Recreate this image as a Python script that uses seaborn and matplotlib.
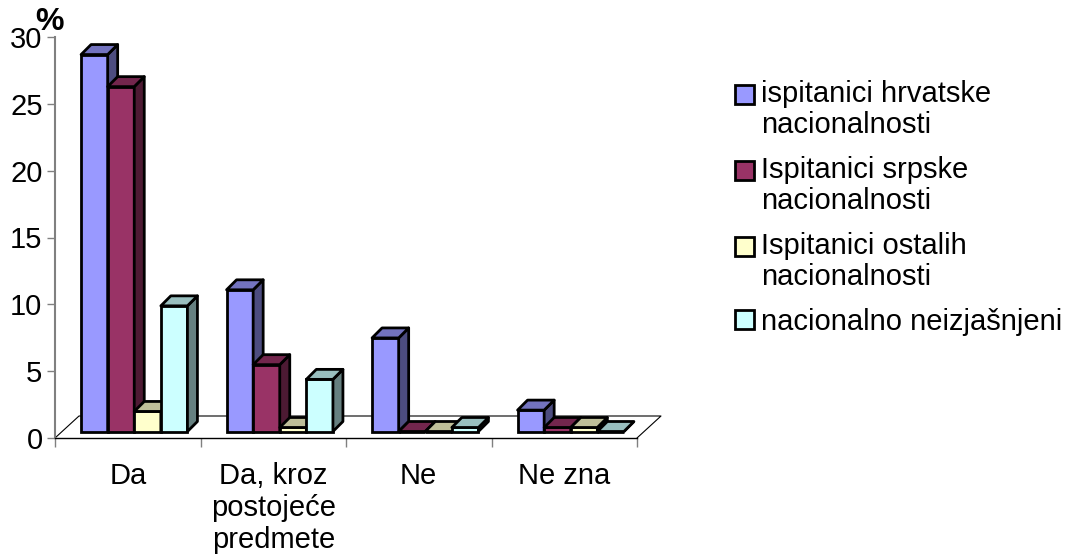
import pandas as pd
import numpy as np
import matplotlib.pyplot as plt
import seaborn as sns
from matplotlib.patches import Polygon

# values
categories = ["Da", "Da, kroz\npostojeće\npredmete", "Ne", "Ne zna"]
series = ["ispitanici hrvatske\nnacionalnosti", "Ispitanici srpske\nnacionalnosti",
          "Ispitanici ostalih\nnacionalnosti", "nacionalno neizjašnjeni"]
hrvatske = [28.2, 10.6, 7.0, 1.6]
srpske = [25.8, 5.0, 0.0, 0.3]
ostalih = [1.5, 0.3, 0.0, 0.3]
neizjasnjeni = [9.4, 3.9, 0.3, 0.0]
yticks = [0, 5, 10, 15, 20, 25, 30]
colors = ["#9999FF", "#993366", "#FFFFCC", "#CCFFFF"]

sns.set_style("white")
plt.rcParams["font.family"] = ["Liberation Sans", "DejaVu Sans"]
plt.rcParams["font.size"] = 21
plt.rcParams["text.color"] = "black"

# long table for seaborn
rows = []
for name, vals in zip(series, [hrvatske, srpske, ostalih, neizjasnjeni]):
    for cat, v in zip(categories, vals):
        rows.append({"cat": cat, "serija": name, "val": v})
df = pd.DataFrame(rows)

fig = plt.figure(figsize=(10.66, 5.56), dpi=100)
ax = fig.add_axes([55 / 1066, 1 - 438 / 556, 582 / 1066, 401 / 556])
sns.barplot(data=df, x="cat", y="val", hue="serija", hue_order=series, palette=colors,
            width=0.731, saturation=1, edgecolor="black", linewidth=2, ax=ax)
ax.set_xlim(-0.5, 3.5)
ax.set_ylim(0, 30)
ax.set_xlabel("")
ax.set_ylabel("")

# pixel sizes in data units
px_x = 4 / 582
px_y = 30 / 401

# fake 3D: lift the bars off the front edge and add top and side faces
lift_x, lift_y = 6.5 * px_x, 6.5 * px_y
depth_x, depth_y = 10 * px_x, 10 * px_y


def shade(c, f):
    return tuple(np.array(plt.matplotlib.colors.to_rgb(c)) * f)


for s, cont in enumerate(ax.containers):
    for c, bar in enumerate(cont):
        bar.set_x(bar.get_x() + lift_x)
        bar.set_y(lift_y)
        x0, x1 = bar.get_x(), bar.get_x() + bar.get_width()
        y0, y1 = lift_y, lift_y + bar.get_height()
        z = 3 + c + s * 0.1
        bar.set_zorder(z)
        bar.set_clip_on(False)
        top = Polygon([(x0, y1), (x1, y1), (x1 + depth_x, y1 + depth_y), (x0 + depth_x, y1 + depth_y)],
                      facecolor=shade(colors[s], 0.75), edgecolor="black", linewidth=2,
                      zorder=z, clip_on=False, joinstyle="round")
        side = Polygon([(x1, y0), (x1 + depth_x, y0 + depth_y), (x1 + depth_x, y1 + depth_y), (x1, y1)],
                       facecolor=shade(colors[s], 0.5), edgecolor="black", linewidth=2,
                       zorder=z, clip_on=False, joinstyle="round")
        ax.add_patch(side)
        ax.add_patch(top)

# floor
fx, fy = 24 * px_x, 22 * px_y
ax.plot([-0.5, -0.5 + fx, 3.5 + fx, 3.5], [0, fy, fy, 0], color="black", lw=0.8, clip_on=False, zorder=1)

# axes
sns.despine(ax=ax, top=True, right=True)
ax.spines["left"].set_color("#808080")
ax.spines["left"].set_linewidth(1.5)
ax.spines["bottom"].set_color("black")
ax.spines["bottom"].set_linewidth(1)
ax.set_yticks(yticks)
ax.tick_params(axis="y", left=True, length=6, width=1, color="#808080", pad=3, labelsize=21, labelcolor="black")
ax.set_xticks(np.arange(-0.5, 4), minor=True)
ax.tick_params(axis="x", which="minor", bottom=True, length=6.5, width=1, color="#808080")
ax.tick_params(axis="x", which="major", bottom=False, length=0, pad=17, labelsize=21, labelcolor="black")
for lab in ax.get_xticklabels():
    lab.set_linespacing(1.2)

fig.text(49 / 1066, 1 - 22 / 556, "%", fontsize=23, fontweight="bold", ha="center", va="center")

# legend
leg = ax.legend(frameon=False, loc="upper left", bbox_to_anchor=(735 / 1066, 1 - 80 / 556),
                bbox_transform=fig.transFigure, borderpad=0, borderaxespad=0, fontsize=21,
                handlelength=0.65, handleheight=0.65, handletextpad=0.24, labelspacing=0.57,
                labelcolor="black")
for txt, h in zip(leg.get_texts(), leg.get_patches()):
    txt.set_linespacing(1.15)
    h.set_edgecolor("black")
    h.set_linewidth(2)
    if "\n" in txt.get_text():
        h.set_y(h.get_y() + 16 * 0.72)

fig.savefig("out.png", dpi=100)
